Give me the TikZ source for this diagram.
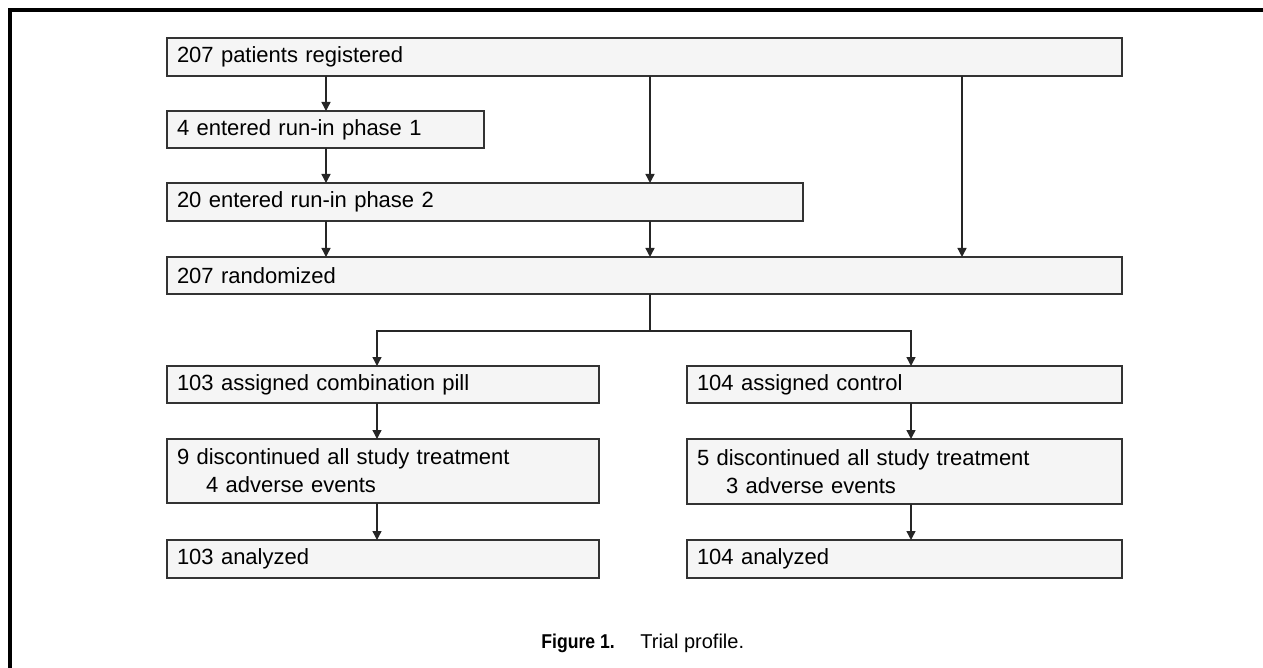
\documentclass[tikz,border=0pt]{standalone}
\usepackage{fontspec}
\setmainfont{Liberation Sans}
\newfontfamily\capbold[FakeStretch=0.88]{Liberation Sans Bold}
\usetikzlibrary{arrows.meta}
\begin{document}
\begin{tikzpicture}[x=0.5pt,y=-0.5pt,
  bx/.style={draw=black!80, line width=0.8pt, fill=black!4, anchor=north west,
    inner xsep=5pt, inner ysep=0pt, align=left, outer sep=0pt,
    font=\fontsize{11}{14}\selectfont, text=black},
  arr/.style={draw=black!85, line width=0.7pt, -{Triangle[length=4.5pt,width=4.5pt]}},
  ln/.style={draw=black!85, line width=0.7pt},
  frame/.style={draw=black, line width=1.8pt}]
\useasboundingbox (0,0) rectangle (1263,668);
\draw[frame] (10,668) -- (10,10) -- (1263,10);

% column coordinates
\coordinate (cA) at (326,0);
\coordinate (cB) at (650,0);
\coordinate (cC) at (962,0);
\coordinate (cL) at (377,0);
\coordinate (cR) at (911,0);
\coordinate (split) at (650,331);

\node[bx, minimum width=477.5pt, minimum height=19pt, text width=467.5pt] (reg) at (167,38) {207 patients registered};
\node[bx, minimum width=158.5pt, minimum height=18.5pt, text width=148.5pt] (ph1) at (167,111) {4 entered run-in phase 1};
\node[bx, minimum width=318pt, minimum height=19pt, text width=308pt] (ph2) at (167,183) {20 entered run-in phase 2};
\node[bx, minimum width=477.5pt, minimum height=18.5pt, text width=467.5pt] (rand) at (167,257) {207 randomized};

\node[bx, minimum width=216pt, minimum height=18.5pt, text width=206pt] (combo) at (167,366) {103 assigned combination pill};
\node[bx, minimum width=216pt, minimum height=32pt, text width=206pt] (dis1) at (167,439) {9 discontinued all study treatment\\\hspace*{14.5pt}4 adverse events};
\node[bx, minimum width=216pt, minimum height=19pt, text width=206pt] (an1) at (167,540) {103 analyzed};

\node[bx, minimum width=217.5pt, minimum height=18.5pt, text width=207.5pt] (ctrl) at (687,366) {104 assigned control};
\node[bx, minimum width=217.5pt, minimum height=32.5pt, text width=207.5pt] (dis2) at (687,439) {5 discontinued all study treatment\\\hspace*{14.5pt}3 adverse events};
\node[bx, minimum width=217.5pt, minimum height=19pt, text width=207.5pt] (an2) at (687,540) {104 analyzed};

% connectors
\draw[arr] (reg.south -| cA) -- (ph1.north -| cA);
\draw[arr] (ph1.south -| cA) -- (ph2.north -| cA);
\draw[arr] (reg.south -| cB) -- (ph2.north -| cB);
\draw[arr] (reg.south -| cC) -- (rand.north -| cC);
\draw[arr] (ph2.south -| cA) -- (rand.north -| cA);
\draw[arr] (ph2.south -| cB) -- (rand.north -| cB);

\draw[ln] (rand.south -| cB) -- (split);
\draw[arr] (split) -| (combo.north -| cL);
\draw[arr] (split) -| (ctrl.north -| cR);

\draw[arr] (combo.south -| cL) -- (dis1.north -| cL);
\draw[arr] (dis1.south -| cL) -- (an1.north -| cL);
\draw[arr] (ctrl.south -| cR) -- (dis2.north -| cR);
\draw[arr] (dis2.south -| cR) -- (an2.north -| cR);

% caption
\node[anchor=base west, inner sep=0pt, font=\fontsize{10}{12}\selectfont] (capfig) at (541,648) {\capbold Figure 1.};
\node[anchor=base west, inner sep=0pt, font=\fontsize{10}{12}\selectfont] (captxt) at (640,648) {Trial profile.};
\end{tikzpicture}
\end{document}
